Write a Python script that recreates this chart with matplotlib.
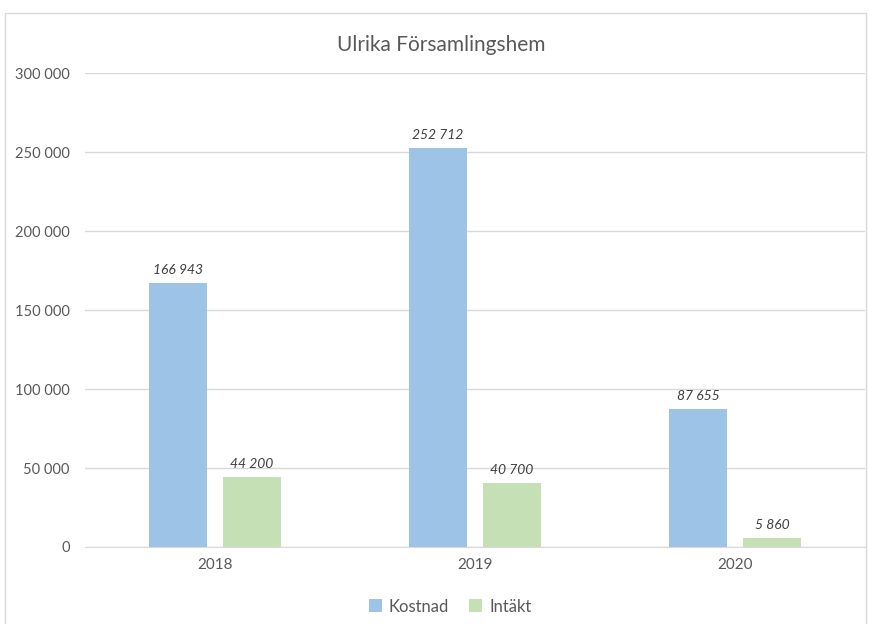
import numpy as np
import matplotlib.pyplot as plt
from matplotlib.patches import Rectangle

years = ["2018", "2019", "2020"]
kostnad = [166943, 252712, 87655]
intakt = [44200, 40700, 5860]

def fmt(v):
    return "{:,}".format(v).replace(",", " ")

plt.rcParams['font.family'] = ['Lato', 'DejaVu Sans']
grey = "#595959"

fig = plt.figure(figsize=(8.69, 6.24), dpi=100)
ax = fig.add_axes([0.0978, 0.1234, 0.8976, 0.7596])

x = np.arange(len(years))
w = 0.223
off = 0.1423
b1 = ax.bar(x - off, kostnad, w, color="#9dc3e6", label="Kostnad")
b2 = ax.bar(x + off, intakt, w, color="#c5e0b4", label="Intäkt")

for bars, vals in ((b1, kostnad), (b2, intakt)):
    for r, v in zip(bars, vals):
        ax.annotate(fmt(v), (r.get_x() + r.get_width() / 2, v), xytext=(0, 5),
                    textcoords="offset points", ha="center", va="bottom",
                    fontsize=10, style="italic", color="#404040")

ax.set_xlim(-0.5, 2.5)
ax.set_ylim(0, 300000)
ax.set_yticks(range(0, 300001, 50000))
ax.set_yticklabels([fmt(v) for v in range(0, 300001, 50000)], color=grey, fontsize=10.5)
ax.set_xticks(x)
ax.set_xticklabels(years, color=grey, fontsize=11)
ax.tick_params(length=0, pad=8)
ax.tick_params(axis="y", pad=11)
ax.grid(axis="y", color="#d9d9d9", linewidth=1)
ax.set_axisbelow(True)
for s in ["top", "right", "left"]:
    ax.spines[s].set_visible(False)
ax.spines["bottom"].set_color("#d9d9d9")

fig.text(0.508, 0.928, "Ulrika Församlingshem", ha="center", va="center",
         fontsize=15, color=grey)

fig.legend(handles=[b1, b2], loc="center", bbox_to_anchor=(0.518, 0.028), ncol=2,
           frameon=False, fontsize=12, handlelength=0.8, handleheight=0.8,
           handletextpad=0.4, columnspacing=1.2, labelcolor=grey)

fig.patches.append(Rectangle((5 / 869, -0.01), 861 / 869, 1 - 13 / 624 + 0.01,
                             transform=fig.transFigure, fill=False,
                             edgecolor="#d9d9d9", linewidth=1))

fig.savefig("out.png", dpi=100)
